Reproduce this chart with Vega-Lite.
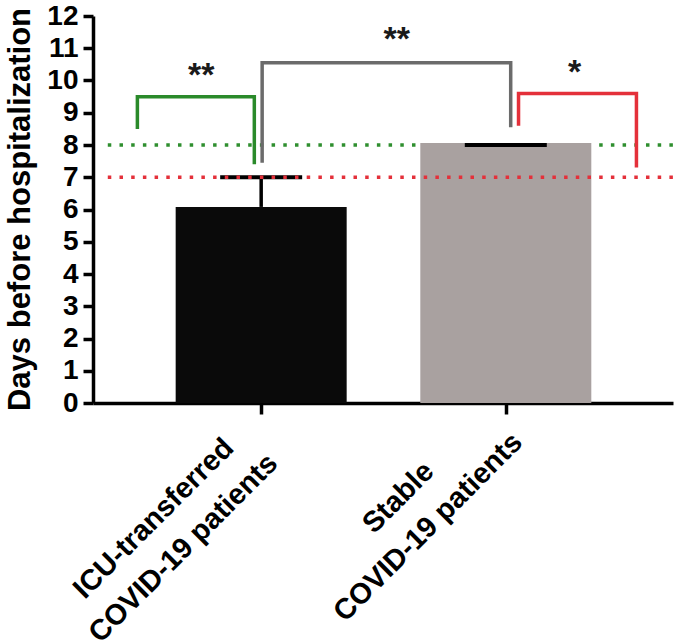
{
  "$schema": "https://vega.github.io/schema/vega-lite/v6.json",
  "width": 580,
  "height": 387,
  "autosize": "none",
  "padding": {"left": 93, "top": 16, "right": 7, "bottom": 241},
  "background": "white",
  "config": {
    "view": {"stroke": null},
    "font": "Liberation Sans",
    "axisY": {"tickCount": 13, "labelOverlap": false, "grid": false},
    "axisX": {"grid": false}
  },
  "datasets": {
    "groups": [
      {"group": "ICU-transferred COVID-19 patients", "pos": 1, "mean": 6.08, "upper": 7.0},
      {"group": "Stable COVID-19 patients", "pos": 2, "mean": 8.06, "upper": 8.0}
    ],
    "refs": [
      {"ref": "8 days", "days": 8, "from": 0.373, "to": 2.69},
      {"ref": "7 days", "days": 7, "from": 0.373, "to": 2.69}
    ],
    "brackets": [
      {"bracket": "ICU vs 8 days", "step": 1, "bx": 0.494, "by": 8.5},
      {"bracket": "ICU vs 8 days", "step": 2, "bx": 0.494, "by": 9.5},
      {"bracket": "ICU vs 8 days", "step": 3, "bx": 0.972, "by": 9.5},
      {"bracket": "ICU vs 8 days", "step": 4, "bx": 0.972, "by": 7.4},
      {"bracket": "ICU vs Stable", "step": 1, "bx": 1.004, "by": 7.45},
      {"bracket": "ICU vs Stable", "step": 2, "bx": 1.004, "by": 10.55},
      {"bracket": "ICU vs Stable", "step": 3, "bx": 2.02, "by": 10.55},
      {"bracket": "ICU vs Stable", "step": 4, "bx": 2.02, "by": 8.55},
      {"bracket": "Stable vs 7 days", "step": 1, "bx": 2.052, "by": 8.6},
      {"bracket": "Stable vs 7 days", "step": 2, "bx": 2.052, "by": 9.6},
      {"bracket": "Stable vs 7 days", "step": 3, "bx": 2.534, "by": 9.6},
      {"bracket": "Stable vs 7 days", "step": 4, "bx": 2.534, "by": 7.3}
    ],
    "stars": [
      {"sig": "**", "sx": 0.755, "sy": 10.15},
      {"sig": "**", "sx": 1.554, "sy": 11.27},
      {"sig": "*", "sx": 2.281, "sy": 10.22}
    ]
  },
  "layer": [
    {
      "data": {"name": "refs"},
      "transform": [{"filter": "datum.days == 8"}],
      "mark": {"type": "rule", "color": "#2f8f2f", "strokeWidth": 3.5, "strokeDash": [3.5, 8.2], "strokeCap": "butt"},
      "encoding": {
        "x": {"field": "from", "type": "quantitative"},
        "x2": {"field": "to"},
        "y": {"field": "days", "type": "quantitative"}
      }
    },
    {
      "data": {"name": "groups"},
      "mark": {"type": "bar", "width": 171},
      "encoding": {
        "x": {
          "field": "pos",
          "type": "quantitative",
          "scale": {"domain": [0.333, 2.663], "nice": false, "zero": false},
          "axis": {
            "title": null,
            "values": [1, 2],
            "domainColor": "#000000",
            "domainWidth": 3.5,
            "tickColor": "#000000",
            "tickWidth": 3.5,
            "tickSize": 11,
            "labelExpr": "datum.value == 1 ? ['ICU-transferred', 'COVID-19 patients'] : ['Stable', 'COVID-19 patients']",
            "labelFont": "Liberation Sans",
            "labelFontSize": 29,
            "labelFontWeight": "bold",
            "labelColor": "#000000",
            "labelAngle": -45,
            "labelAlign": "center",
            "labelBaseline": "middle",
            "labelLineHeight": 42,
            "labelOffset": -108,
            "labelPadding": {"condition": {"test": "datum.value == 1", "value": 104}, "value": 83},
            "labelLimit": 0,
            "labelOverlap": false,
            "labelBound": false,
            "labelFlush": false
          }
        },
        "y": {
          "field": "mean",
          "type": "quantitative",
          "scale": {"domain": [0, 12], "nice": false},
          "axis": {
            "title": "Days before hospitalization",
            "titleFont": "Liberation Sans",
            "titleFontSize": 31,
            "titleFontWeight": "bold",
            "titleColor": "#000000",
            "titleX": -57,
            "titleY": 193,
            "titleAngle": -90,
            "titleAlign": "center",
            "titleBaseline": "bottom",
            "values": [0, 1, 2, 3, 4, 5, 6, 7, 8, 9, 10, 11, 12],
            "domainColor": "#000000",
            "domainWidth": 3.5,
            "tickColor": "#000000",
            "tickWidth": 3.5,
            "tickSize": 10,
            "labelPadding": 5,
            "labelFont": "Liberation Sans",
            "labelFontSize": 28,
            "labelFontWeight": "bold",
            "labelColor": "#000000",
            "labelLimit": 0
          }
        },
        "color": {
          "field": "group",
          "type": "nominal",
          "scale": {"range": ["#0a0a0a", "#a9a1a0"]},
          "legend": null
        }
      }
    },
    {
      "data": {"name": "groups"},
      "mark": {"type": "rule", "color": "#000000", "strokeWidth": 3.5},
      "encoding": {
        "x": {"field": "pos", "type": "quantitative"},
        "y": {"field": "mean", "type": "quantitative"},
        "y2": {"field": "upper"}
      }
    },
    {
      "data": {"name": "groups"},
      "mark": {"type": "tick", "color": "#000000", "orient": "horizontal", "size": 82, "thickness": 4, "opacity": 1},
      "encoding": {
        "x": {"field": "pos", "type": "quantitative"},
        "y": {"field": "upper", "type": "quantitative"}
      }
    },
    {
      "data": {"name": "refs"},
      "transform": [{"filter": "datum.days == 7"}],
      "mark": {"type": "rule", "color": "#e4303a", "strokeWidth": 3.5, "strokeDash": [3.5, 8.2], "strokeCap": "butt"},
      "encoding": {
        "x": {"field": "from", "type": "quantitative"},
        "x2": {"field": "to"},
        "y": {"field": "days", "type": "quantitative"}
      }
    },
    {
      "data": {"name": "brackets"},
      "mark": {"type": "line", "strokeWidth": 3.5, "strokeCap": "butt", "strokeJoin": "miter"},
      "encoding": {
        "x": {"field": "bx", "type": "quantitative"},
        "y": {"field": "by", "type": "quantitative"},
        "order": {"field": "step", "type": "quantitative"},
        "stroke": {
          "field": "bracket",
          "type": "nominal",
          "scale": {"domain": ["ICU vs 8 days", "ICU vs Stable", "Stable vs 7 days"], "range": ["#2a8a2a", "#6b6b6b", "#e4303a"]},
          "legend": null
        }
      }
    },
    {
      "data": {"name": "stars"},
      "mark": {"type": "text", "font": "Liberation Sans", "fontSize": 34, "fontWeight": "bold", "color": "#1a1a1a", "baseline": "middle", "align": "center"},
      "encoding": {
        "x": {"field": "sx", "type": "quantitative"},
        "y": {"field": "sy", "type": "quantitative"},
        "text": {"field": "sig"}
      }
    }
  ]
}
